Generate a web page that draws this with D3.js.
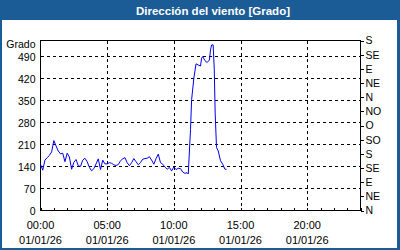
<!DOCTYPE html>
<html>
<head>
<meta charset="utf-8">
<script src="https://cdn.jsdelivr.net/npm/d3@7"></script>
<style>
  body { margin: 0; background: #fff; }
  svg { display: block; font-family: "Liberation Sans", Arial, sans-serif; }
</style>
</head>
<body>
<svg id="chart" width="400" height="250"></svg>
<script>
const TITLE = "Dirección del viento [Grado]";
const UNIT = "Grado";
const DAY = "2026-01-01";

// readings (time of day, degrees)
const times = [
  "00:00", "00:10", "00:20", "00:30", "00:40", "00:50", "01:00", "01:10", "01:20", "01:30",
  "01:40", "01:50", "02:00", "02:10", "02:20", "02:30", "02:40", "02:50", "03:00", "03:10",
  "03:20", "03:30", "03:40", "03:50", "04:00", "04:10", "04:20", "04:30", "04:40", "04:50",
  "05:00", "05:10", "05:20", "05:30", "05:40", "05:50", "06:00", "06:10", "06:20", "06:30",
  "06:40", "06:50", "07:00", "07:10", "07:20", "07:30", "07:40", "07:50", "08:00", "08:10",
  "08:20", "08:30", "08:40", "08:50", "09:00", "09:10", "09:20", "09:30", "09:40", "09:50",
  "10:00", "10:10", "10:20", "10:30", "10:40", "10:50", "11:00", "11:05", "11:15", "11:20",
  "11:30", "11:40", "11:50", "12:00", "12:05", "12:10", "12:20", "12:30", "12:40", "12:45",
  "12:50", "12:57", "13:02", "13:06", "13:12", "13:20", "13:30", "13:40", "13:50", "13:57"
];
const values = [
  147, 128, 160, 168, 175, 186, 222, 205, 189, 180,
  182, 155, 182, 170, 131, 153, 162, 142, 140, 160,
  166, 155, 137, 126, 133, 148, 164, 130, 160, 148,
  148, 152, 150, 145, 143, 146, 158, 164, 168, 152,
  142, 152, 165, 155, 145, 152, 163, 165, 166, 171,
  160, 147, 165, 179, 152, 147, 138, 131, 137, 126,
  138, 130, 134, 133, 122, 118, 120, 116, 257, 352,
  420, 466, 462, 459, 484, 489, 476, 470, 478, 510,
  526, 526, 447, 310, 200, 189, 158, 147, 131, 131
];

const yTicks = [0, 70, 140, 210, 280, 350, 420, 490];
const compass = ["N", "NE", "E", "SE", "S", "SO", "O", "NO", "N", "NE", "E", "SE", "S"];
const compassStep = 45;
const hourTicks = ["00:00", "05:00", "10:00", "15:00", "20:00"];

const parse = d3.timeParse("%Y-%m-%d %H:%M");
const data = times.map((t, i) => ({ t: parse(DAY + " " + t), v: values[i] }));

const svg = d3.select("#chart");
const W = 400, H = 250;
const mLeft = 40.5, mRight = 360.5, mTop = 40.5, mBottom = 210.5;

// frame + title bar
svg.append("rect").attr("width", W).attr("height", H).attr("fill", "#1c5c96");
svg.append("rect").attr("x", 2).attr("y", 20).attr("width", 395).attr("height", 228).attr("fill", "#fff");
svg.append("text")
  .attr("x", 213).attr("y", 14.5)
  .attr("text-anchor", "middle")
  .attr("fill", "#fff")
  .style("font-weight", "bold")
  .style("font-size", "11.5px")
  .text(TITLE);

const x = d3.scaleTime()
  .domain([parse(DAY + " 00:00"), d3.timeDay.offset(parse(DAY + " 00:00"), 1)])
  .range([mLeft, mRight]);
const y = d3.scaleLinear().domain([0, compassStep * (compass.length - 1)]).range([mBottom, mTop]);

const grid = svg.append("g")
  .attr("stroke", "#000")
  .attr("stroke-dasharray", "3,3")
  .attr("shape-rendering", "crispEdges");
grid.selectAll("line.h")
  .data(yTicks.filter((d) => d > 0))
  .join("line")
  .attr("class", "h")
  .attr("x1", mLeft).attr("x2", mRight)
  .attr("y1", (d) => Math.round(y(d)) + 0.5).attr("y2", (d) => Math.round(y(d)) + 0.5);
grid.selectAll("line.v")
  .data(hourTicks.slice(1))
  .join("line")
  .attr("class", "v")
  .attr("x1", (d) => Math.round(x(parse(DAY + " " + d))) + 0.5)
  .attr("x2", (d) => Math.round(x(parse(DAY + " " + d))) + 0.5)
  .attr("y1", mTop).attr("y2", mBottom);

// plot frame
svg.append("rect")
  .attr("x", mLeft).attr("y", mTop)
  .attr("width", mRight - mLeft).attr("height", mBottom - mTop)
  .attr("fill", "none").attr("stroke", "#000")
  .attr("shape-rendering", "crispEdges");

// left axis labels
svg.append("g")
  .style("font-size", "10.5px")
  .selectAll("text")
  .data(yTicks)
  .join("text")
  .attr("x", 35.5).attr("y", (d) => y(d) + 1)
  .attr("dy", "0.35em")
  .attr("text-anchor", "end")
  .text((d) => d);
svg.append("text")
  .attr("x", 35.5).attr("y", 48)
  .attr("text-anchor", "end")
  .style("font-size", "10.5px")
  .text(UNIT);

// right compass axis
const yR = svg.append("g")
  .attr("transform", `translate(${mRight},0)`)
  .call(d3.axisRight(y)
    .tickValues(compass.map((c, i) => i * compassStep))
    .tickSize(3)
    .tickPadding(2)
    .tickFormat((d, i) => compass[i]));
yR.select(".domain").remove();
yR.selectAll("line").attr("shape-rendering", "crispEdges");
yR.selectAll("text").style("font-size", "10.5px").style("font-family", "inherit");

// bottom axis: hourly minor ticks inside
svg.append("g")
  .attr("stroke", "#000")
  .attr("shape-rendering", "crispEdges")
  .selectAll("line")
  .data(x.ticks(d3.timeHour.every(1)))
  .join("line")
  .attr("x1", (d) => Math.round(x(d)) + 0.5)
  .attr("x2", (d) => Math.round(x(d)) + 0.5)
  .attr("y1", mBottom).attr("y2", mBottom - 3);

const fmtH = d3.timeFormat("%H:%M");
const fmtD = d3.timeFormat("%d/%m/%y");
const xl = svg.append("g")
  .style("font-size", "11px")
  .attr("text-anchor", "middle")
  .selectAll("g")
  .data(hourTicks.map((h) => parse(DAY + " " + h)))
  .join("g")
  .attr("transform", (d) => `translate(${x(d)},0)`);
xl.append("text").attr("y", 229).text((d) => fmtH(d));
xl.append("text").attr("y", 244).text((d) => fmtD(d));

// series
svg.append("path")
  .datum(data)
  .attr("fill", "none")
  .attr("stroke", "#0000ee")
  .attr("stroke-width", 1)
  .attr("d", d3.line().x((d) => x(d.t)).y((d) => y(d.v)));
</script>
</body>
</html>
